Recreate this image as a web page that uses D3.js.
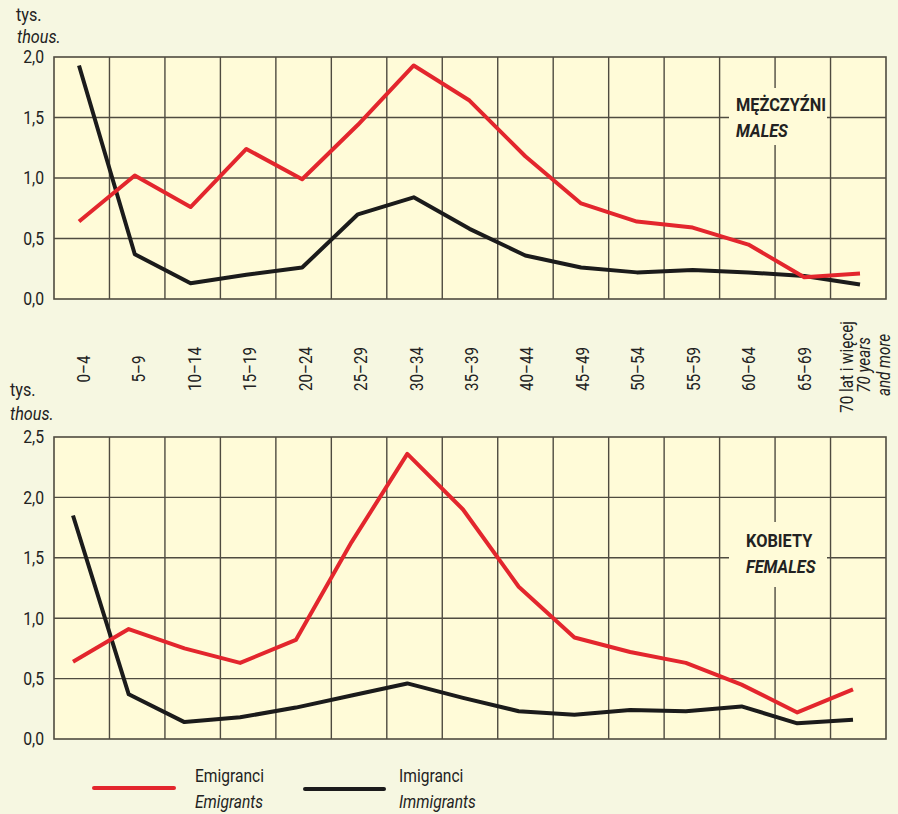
<!DOCTYPE html>
<html>
<head>
<meta charset="utf-8">
<script src="https://cdn.jsdelivr.net/npm/d3@7"></script>
<style>
  html, body { margin: 0; padding: 0; background: #f6f7e1; }
  svg { display: block; }
  text { font-family: Roboto, "Liberation Sans", sans-serif; fill: #222; }
</style>
</head>
<body>
<script>
const categories = ["0–4","5–9","10–14","15–19","20–24","25–29","30–34","35–39","40–44","45–49","50–54","55–59","60–64","65–69","70+"];
const maleEmigrants   = [0.64,1.02,0.76,1.24,0.99,1.44,1.93,1.64,1.18,0.79,0.64,0.59,0.45,0.18,0.21];
const maleImmigrants  = [1.93,0.37,0.13,0.20,0.26,0.70,0.84,0.58,0.36,0.26,0.22,0.24,0.22,0.19,0.12];
const femaleEmigrants = [0.64,0.91,0.75,0.63,0.82,1.63,2.36,1.90,1.26,0.84,0.72,0.63,0.45,0.22,0.41];
const femaleImmigrants= [1.85,0.37,0.14,0.18,0.26,0.36,0.46,0.34,0.23,0.20,0.24,0.23,0.27,0.13,0.16];
const maleTicks = [0, 0.5, 1.0, 1.5, 2.0];
const femaleTicks = [0, 0.5, 1.0, 1.5, 2.0, 2.5];
const lastLabel = ["70 lat i więcej", "70 years", "and more"];

const W = 898, H = 814;
const svg = d3.select("body").append("svg").attr("width", W).attr("height", H);
svg.append("rect").attr("width", W).attr("height", H).attr("fill", "#f6f7e1");

const left = 54, right = 886;
const x = d3.scaleBand().domain(categories).range([left, right]).paddingInner(0).paddingOuter(0);
const fmt = d => d3.format(".1f")(d).replace(".", ",");
const RED = "#e3262d", BLACK = "#1b1b1b", GRID = "#4f4b40";

function ctext(parent, tx, ty, str, size, opts = {}) {
  const g = parent.append("g").attr("transform", `translate(${tx},${ty})` + (opts.rotate ? ` rotate(${opts.rotate})` : "") + ` scale(${opts.sx || 1},1)`);
  const t = g.append("text").attr("font-size", size).text(str);
  if (opts.anchor) t.attr("text-anchor", opts.anchor);
  if (opts.italic) t.attr("font-style", "italic");
  if (opts.bold) t.attr("font-weight", "bold");
  if (opts.dy) t.attr("dy", opts.dy);
  return t;
}

function panel(top, bottom, maxV, ticks, emi, imm, pRange, labelBox, titles, titleX, titleY) {
  const y = d3.scaleLinear().domain([0, maxV]).range([bottom, top]);
  const px = d3.scalePoint().domain(categories).range(pRange);
  const g = svg.append("g");
  g.append("rect").attr("x", left).attr("y", top).attr("width", right - left).attr("height", bottom - top).attr("fill", "#fffbd8");
  g.selectAll("line.v").data(categories.slice(1)).join("line")
    .attr("x1", d => x(d)).attr("x2", d => x(d)).attr("y1", top).attr("y2", bottom)
    .attr("stroke", GRID).attr("stroke-width", 1.4);
  g.selectAll("line.h").data(ticks.slice(1, -1)).join("line")
    .attr("x1", left).attr("x2", right).attr("y1", d => y(d)).attr("y2", d => y(d))
    .attr("stroke", GRID).attr("stroke-width", 1.4);
  g.append("rect").attr("x", labelBox[0]).attr("y", labelBox[1]).attr("width", labelBox[2]).attr("height", labelBox[3]).attr("fill", "#fffbd8");
  ctext(g, titleX, titleY, titles[0], 19, { bold: true, sx: 0.86 });
  ctext(g, titleX, titleY + 26, titles[1], 19, { bold: true, italic: true, sx: 0.86 });
  g.append("rect").attr("x", left).attr("y", top).attr("width", right - left).attr("height", bottom - top)
    .attr("fill", "none").attr("stroke", GRID).attr("stroke-width", 1.6);
  ticks.forEach(t => ctext(g, left - 10, y(t), fmt(t), 17.5, { anchor: "end", sx: 0.9, dy: "0.36em" }));
  const line = d3.line().x((d, i) => px(categories[i])).y(d => y(d));
  g.append("path").datum(imm).attr("d", line).attr("fill", "none").attr("stroke", BLACK).attr("stroke-width", 4).attr("stroke-linejoin", "round");
  g.append("path").datum(emi).attr("d", line).attr("fill", "none").attr("stroke", RED).attr("stroke-width", 4).attr("stroke-linejoin", "round");
}

panel(57, 299, 2.0, maleTicks, maleEmigrants, maleImmigrants, [79, 860], [729, 88, 98, 57], ["MĘŻCZYŹNI", "MALES"], 736, 111);
panel(437, 739, 2.5, femaleTicks, femaleEmigrants, femaleImmigrants, [73, 853], [729, 522, 98, 65], ["KOBIETY", "FEMALES"], 746, 547);

// unit labels
ctext(svg, 16, 21, "tys.", 18, { sx: 0.9 });
ctext(svg, 17, 43, "thous.", 18, { sx: 0.9, italic: true });
ctext(svg, 10, 396, "tys.", 18, { sx: 0.9 });
ctext(svg, 10, 420, "thous.", 18, { sx: 0.9, italic: true });

// x labels (rotated)
const xl = svg.append("g");
categories.slice(0, -1).forEach(c => {
  ctext(xl, x(c) + x.bandwidth() / 2 + 8, 369, c, 18.5, { rotate: -90, anchor: "middle", sx: 0.82 });
});
const lastX = x(categories[categories.length - 1]);
ctext(xl, lastX + 22, 367, lastLabel[0], 18.5, { rotate: -90, anchor: "middle", sx: 0.82 });
ctext(xl, lastX + 39, 365, lastLabel[1], 18.5, { rotate: -90, anchor: "middle", sx: 0.82, italic: true });
ctext(xl, lastX + 59, 365, lastLabel[2], 18.5, { rotate: -90, anchor: "middle", sx: 0.82, italic: true });

// legend
const lg = svg.append("g");
lg.append("line").attr("x1", 94).attr("x2", 174).attr("y1", 788).attr("y2", 788).attr("stroke", RED).attr("stroke-width", 4).attr("stroke-linecap", "round");
ctext(lg, 195, 782, "Emigranci", 19, { sx: 0.82 });
ctext(lg, 195, 808, "Emigrants", 19, { sx: 0.82, italic: true });
lg.append("line").attr("x1", 305).attr("x2", 384).attr("y1", 789).attr("y2", 789).attr("stroke", BLACK).attr("stroke-width", 4).attr("stroke-linecap", "round");
ctext(lg, 399, 782, "Imigranci", 19, { sx: 0.82 });
ctext(lg, 399, 808, "Immigrants", 19, { sx: 0.82, italic: true });
</script>
</body>
</html>
